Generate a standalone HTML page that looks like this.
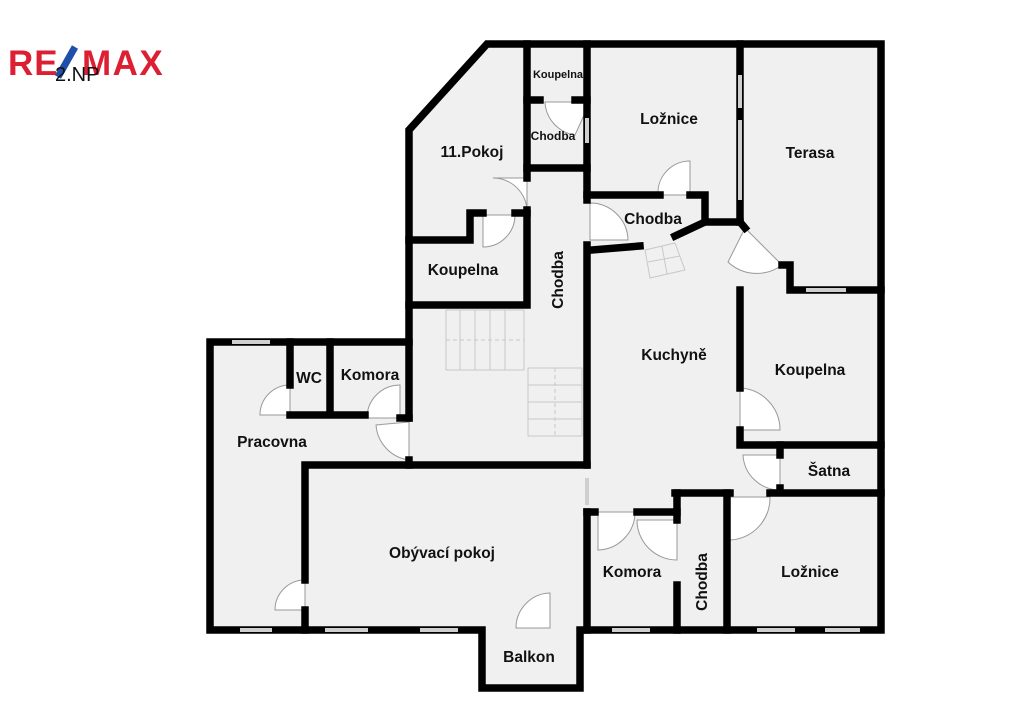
<!DOCTYPE html>
<html><head><meta charset="utf-8"><style>
html,body{margin:0;padding:0;background:#fff;}
svg{display:block}
text{font-family:"Liberation Sans",sans-serif;font-weight:bold;font-size:15.5px;fill:#111;}
</style></head><body>
<svg width="1024" height="723" viewBox="0 0 1024 723" xmlns="http://www.w3.org/2000/svg">
<!-- logo -->
<text x="8" y="75" style="font-size:35px;fill:#dc1f32;font-weight:bold;letter-spacing:1px">RE</text>
<line x1="75" y1="47" x2="58" y2="77" stroke="#1f4fa8" stroke-width="7"/>
<text x="82" y="75" style="font-size:35px;fill:#dc1f32;font-weight:bold;letter-spacing:1.5px">MAX</text>
<text x="55" y="81" style="font-size:20px;font-weight:normal;fill:#111">2.NP</text>

<!-- floor -->
<path d="M487,44 L881,44 L881,630 L580,630 L580,688 L482,688 L482,630 L210,630 L210,342 L409,342 L409,130 Z" fill="#f0f0f0"/>

<!-- door swings -->
<g fill="#fff" stroke="#999" stroke-width="1">
<path d="M590,102 L545,102 A35,35 0 0 0 575,135 Z"/>
<path d="M527,178 L493,178 A34,34 0 0 1 527,212 Z"/>
<path d="M515,215 L483,215 L483,247 A32,32 0 0 0 515,215 Z"/>
<path d="M690,195 L690,161 A32,32 0 0 0 658,195 Z"/>
<path d="M590,203 L590,240 L628,240 A38,38 0 0 0 590,203 Z"/>
<path d="M745,228 L728,262 A42,42 0 0 0 782,265 Z"/>
<path d="M740,388 L740,430 L780,430 A42,42 0 0 0 740,388 Z"/>
<path d="M780,455 L743,455 A37,37 0 0 0 780,490 Z"/>
<path d="M730,497 L730,540 A42,42 0 0 0 770,497 Z"/>
<path d="M598,512 L598,550 A38,38 0 0 0 635,512 Z"/>
<path d="M677,520 L677,560 A40,40 0 0 1 637,520 Z"/>
<path d="M550,593 L550,628 L516,628 A35,35 0 0 1 550,593 Z"/>
<path d="M305,580 L305,610 L275,610 A30,30 0 0 1 305,580 Z"/>
<path d="M290,385 L290,415 L260,415 A30,30 0 0 1 290,385 Z"/>
<path d="M400,385 L400,418 L367,418 A33,33 0 0 1 400,385 Z"/>
<path d="M409,422 L409,460 A38,38 0 0 1 376,425 Z"/>
</g>

<!-- stairs -->
<g stroke="#c8c8c8" stroke-width="1" fill="none">
<rect x="446" y="310" width="78" height="60"/>
<line x1="460" y1="310" x2="460" y2="370"/><line x1="475" y1="310" x2="475" y2="370"/>
<line x1="490" y1="310" x2="490" y2="370"/><line x1="505" y1="310" x2="505" y2="370"/>
<line x1="446" y1="340" x2="524" y2="340" stroke-dasharray="4,3"/>
<rect x="528" y="368" width="54" height="68"/>
<line x1="528" y1="385" x2="582" y2="385"/><line x1="528" y1="402" x2="582" y2="402"/>
<line x1="528" y1="419" x2="582" y2="419"/>
<line x1="555" y1="368" x2="555" y2="436" stroke-dasharray="4,3"/>
<path d="M645,250 L675,243 L685,270 L650,278 Z M648,262 L680,256 M662,246 L667,274"/>
</g>

<!-- walls -->
<g stroke="#000" stroke-width="7.5" fill="none" stroke-linecap="square">
<path d="M487,44 L881,44 L881,630 L580,630 L580,688 L482,688 L482,630 L210,630 L210,342 L409,342 L409,130 Z"/>
<path d="M527,44 L527,178 M527,210 L527,305 M409,305 L527,305"/>
<path d="M527,100 L540,100 M575,100 L587,100 M527,168 L587,168"/>
<path d="M409,240 L470,240 L470,213 L483,213 M515,213 L527,213"/>
<path d="M587,44 L587,200 M587,245 L587,465 M587,512 L587,630"/>
<path d="M587,195 L660,195 M690,195 L705,195 L705,222 L740,222"/>
<path d="M740,44 L740,222 M740,222 L745,228 M782,265 L790,265 L790,290 L881,290"/>
<path d="M592,250 L640,246 M675,236 L705,222"/>
<path d="M740,290 L740,388 M740,430 L740,445 L881,445"/>
<path d="M780,445 L780,455 M780,488 L780,493 L881,493 M675,493 L730,493 M770,493 L780,493"/>
<path d="M727,493 L727,630 M677,493 L677,520 M677,585 L677,630"/>
<path d="M587,512 L595,512 M637,512 L677,512"/>
<path d="M305,465 L587,465 M305,465 L305,580 M305,610 L305,630"/>
<path d="M409,342 L409,418 M409,460 L409,465"/>
<path d="M290,342 L290,385 M290,415 L365,415 M330,342 L330,415 M400,418 L409,418"/>
</g>

<!-- windows -->
<g stroke="#cfcfcf" stroke-width="4">
<line x1="240" y1="630" x2="272" y2="630"/><line x1="325" y1="630" x2="368" y2="630"/>
<line x1="420" y1="630" x2="458" y2="630"/><line x1="612" y1="630" x2="650" y2="630"/>
<line x1="757" y1="630" x2="795" y2="630"/><line x1="825" y1="630" x2="860" y2="630"/>
<line x1="232" y1="342" x2="270" y2="342"/><line x1="806" y1="290" x2="846" y2="290"/>
<line x1="740" y1="75" x2="740" y2="108"/><line x1="740" y1="120" x2="740" y2="200"/>
<line x1="587" y1="478" x2="587" y2="505"/><line x1="587" y1="118" x2="587" y2="143"/>
</g>

<!-- labels -->
<text x="558" y="78" text-anchor="middle" style="font-size:11px">Koupelna</text>
<text x="553" y="140" text-anchor="middle" style="font-size:12px">Chodba</text>
<text x="669" y="124" text-anchor="middle">Ložnice</text>
<text x="810" y="158" text-anchor="middle">Terasa</text>
<text x="472" y="157" text-anchor="middle">11.Pokoj</text>
<text x="653" y="224" text-anchor="middle">Chodba</text>
<text x="463" y="275" text-anchor="middle">Koupelna</text>
<text transform="translate(563,280) rotate(-90)" text-anchor="middle">Chodba</text>
<text x="674" y="360" text-anchor="middle">Kuchyně</text>
<text x="810" y="375" text-anchor="middle">Koupelna</text>
<text x="309" y="383" text-anchor="middle">WC</text>
<text x="370" y="380" text-anchor="middle">Komora</text>
<text x="272" y="447" text-anchor="middle">Pracovna</text>
<text x="829" y="476" text-anchor="middle">Šatna</text>
<text x="442" y="558" text-anchor="middle">Obývací pokoj</text>
<text x="632" y="577" text-anchor="middle">Komora</text>
<text transform="translate(707,582) rotate(-90)" text-anchor="middle">Chodba</text>
<text x="810" y="577" text-anchor="middle">Ložnice</text>
<text x="529" y="662" text-anchor="middle">Balkon</text>
</svg>
</body></html>
